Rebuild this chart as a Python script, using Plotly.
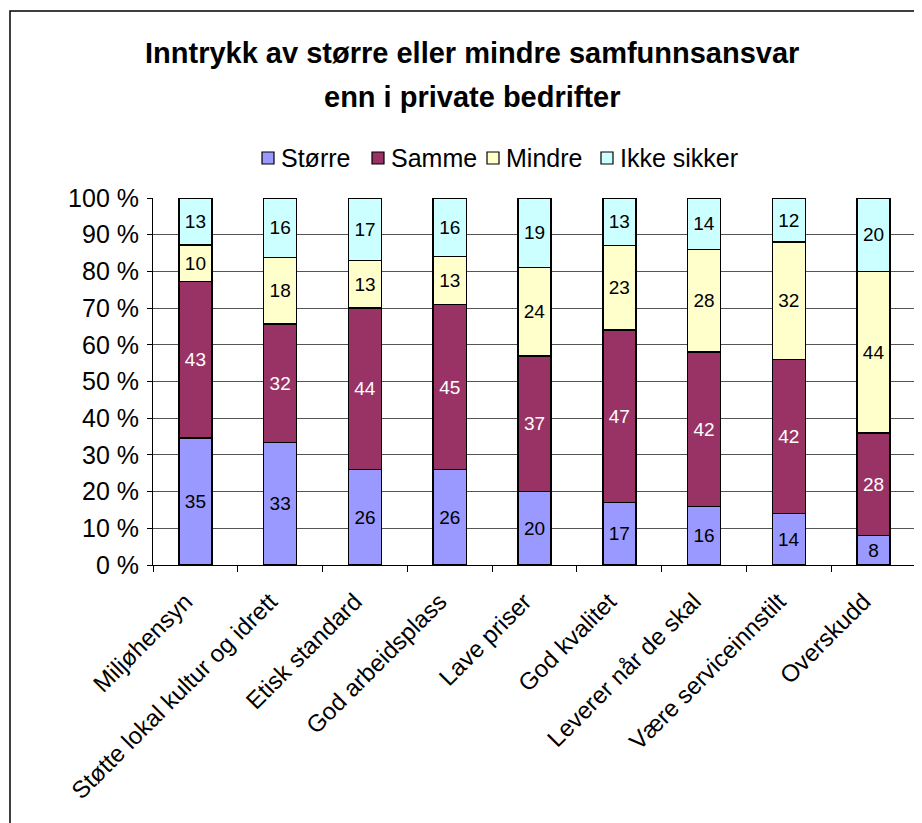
import plotly.graph_objects as go

categories = ["Miljøhensyn", "Støtte lokal kultur og idrett", "Etisk standard",
              "God arbeidsplass", "Lave priser", "God kvalitet",
              "Leverer når de skal", "Være serviceinnstilt", "Overskudd"]
storre = [35, 33, 26, 26, 20, 17, 16, 14, 8]
samme = [43, 32, 44, 45, 37, 47, 42, 42, 28]
mindre = [10, 18, 13, 13, 24, 23, 28, 32, 44]
ikke_sikker = [13, 16, 17, 16, 19, 13, 14, 12, 20]
series_names = ["Større", "Samme", "Mindre", "Ikke sikker"]
y_ticks = [0, 10, 20, 30, 40, 50, 60, 70, 80, 90, 100]

series = [storre, samme, mindre, ikke_sikker]
colors = ["#9999FF", "#993366", "#FFFFCC", "#CCFFFF"]
text_colors = ["black", "white", "black", "black"]

FONT = "Liberation Sans, Arial, sans-serif"

fig = go.Figure()
for name, vals, col, tcol in zip(series_names, series, colors, text_colors):
    fig.add_trace(go.Bar(
        name=name, x=categories, y=vals,
        marker=dict(color=col, line=dict(color="black", width=1.5)),
        text=vals, texttemplate="%{text}", textposition="inside",
        insidetextanchor="middle", textangle=0,
        textfont=dict(color=tcol, size=19, family=FONT),
        hoverinfo="skip", showlegend=False,
    ))

# The page body adds an 8px offset; work in reference pixels and shift.
OFF = 8
W, H = 922 - OFF, 823 - OFF
L, R, T, B = 153 - OFF, 916 - OFF, 198 - OFF, 565 - OFF
pw, ph = R - L, B - T

def px_x(p):
    return (p - OFF - L) / pw

def px_y(p):
    return (B - (p - OFF)) / ph

fig.update_layout(
    width=W, height=H,
    margin=dict(l=L, r=W - R, t=T, b=H - B, pad=0, autoexpand=False),
    barmode="stack", barnorm="percent", bargap=0.61,
    paper_bgcolor="white", plot_bgcolor="white",
    font=dict(family=FONT, color="black"),
    showlegend=False,
    uniformtext=dict(mode=False),
)

fig.update_yaxes(
    range=[0, 100], tickvals=y_ticks, ticktext=[f"{v} %" for v in y_ticks],
    showgrid=True, gridcolor="#555555", gridwidth=1,
    showline=True, linecolor="black", linewidth=1,
    ticks="outside", ticklen=5, tickcolor="black", ticklabelstandoff=3,
    tickfont=dict(size=25, family=FONT), zeroline=False, automargin=False,
)
fig.update_xaxes(
    showgrid=False, showline=True, linecolor="black", linewidth=1,
    ticks="outside", ticklen=6, tickcolor="black", tickson="boundaries",
    tickangle=-45, tickfont=dict(size=24, family=FONT), automargin=False,
    ticklabelstandoff=12, ticklabelshift=-10,
)

# title lines
fig.add_annotation(text="<b>Inntrykk av større eller mindre samfunnsansvar</b>",
                   xref="paper", yref="paper", x=px_x(472), y=px_y(53),
                   xanchor="center", yanchor="middle", showarrow=False,
                   font=dict(size=29, family=FONT, color="black"))
fig.add_annotation(text="<b>enn i private bedrifter</b>",
                   xref="paper", yref="paper", x=px_x(472), y=px_y(97),
                   xanchor="center", yanchor="middle", showarrow=False,
                   font=dict(size=29, family=FONT, color="black"))

# legend (compact, Excel-like)
legend_x = [262, 372, 487, 601]
legend_y = 158
for name, col, lx in zip(series_names, colors, legend_x):
    fig.add_shape(type="rect", xref="paper", yref="paper",
                  x0=px_x(lx), x1=px_x(lx + 12),
                  y0=px_y(legend_y + 6), y1=px_y(legend_y - 6),
                  fillcolor=col, line=dict(color="black", width=1.2))
    fig.add_annotation(text=name, xref="paper", yref="paper",
                       x=px_x(lx + 17), y=px_y(legend_y),
                       xanchor="left", yanchor="middle", showarrow=False,
                       font=dict(size=25, family=FONT, color="black"))

# right border of plot area (gray)
fig.add_shape(type="line", xref="paper", yref="paper", x0=1, x1=1, y0=0, y1=1,
              line=dict(color="#808080", width=1))
# outer chart border
fig.add_shape(type="rect", xref="paper", yref="paper",
              x0=px_x(10), x1=px_x(1100), y0=px_y(1000), y1=px_y(11),
              line=dict(color="black", width=1.5), layer="above")

fig.write_html("out.html")
